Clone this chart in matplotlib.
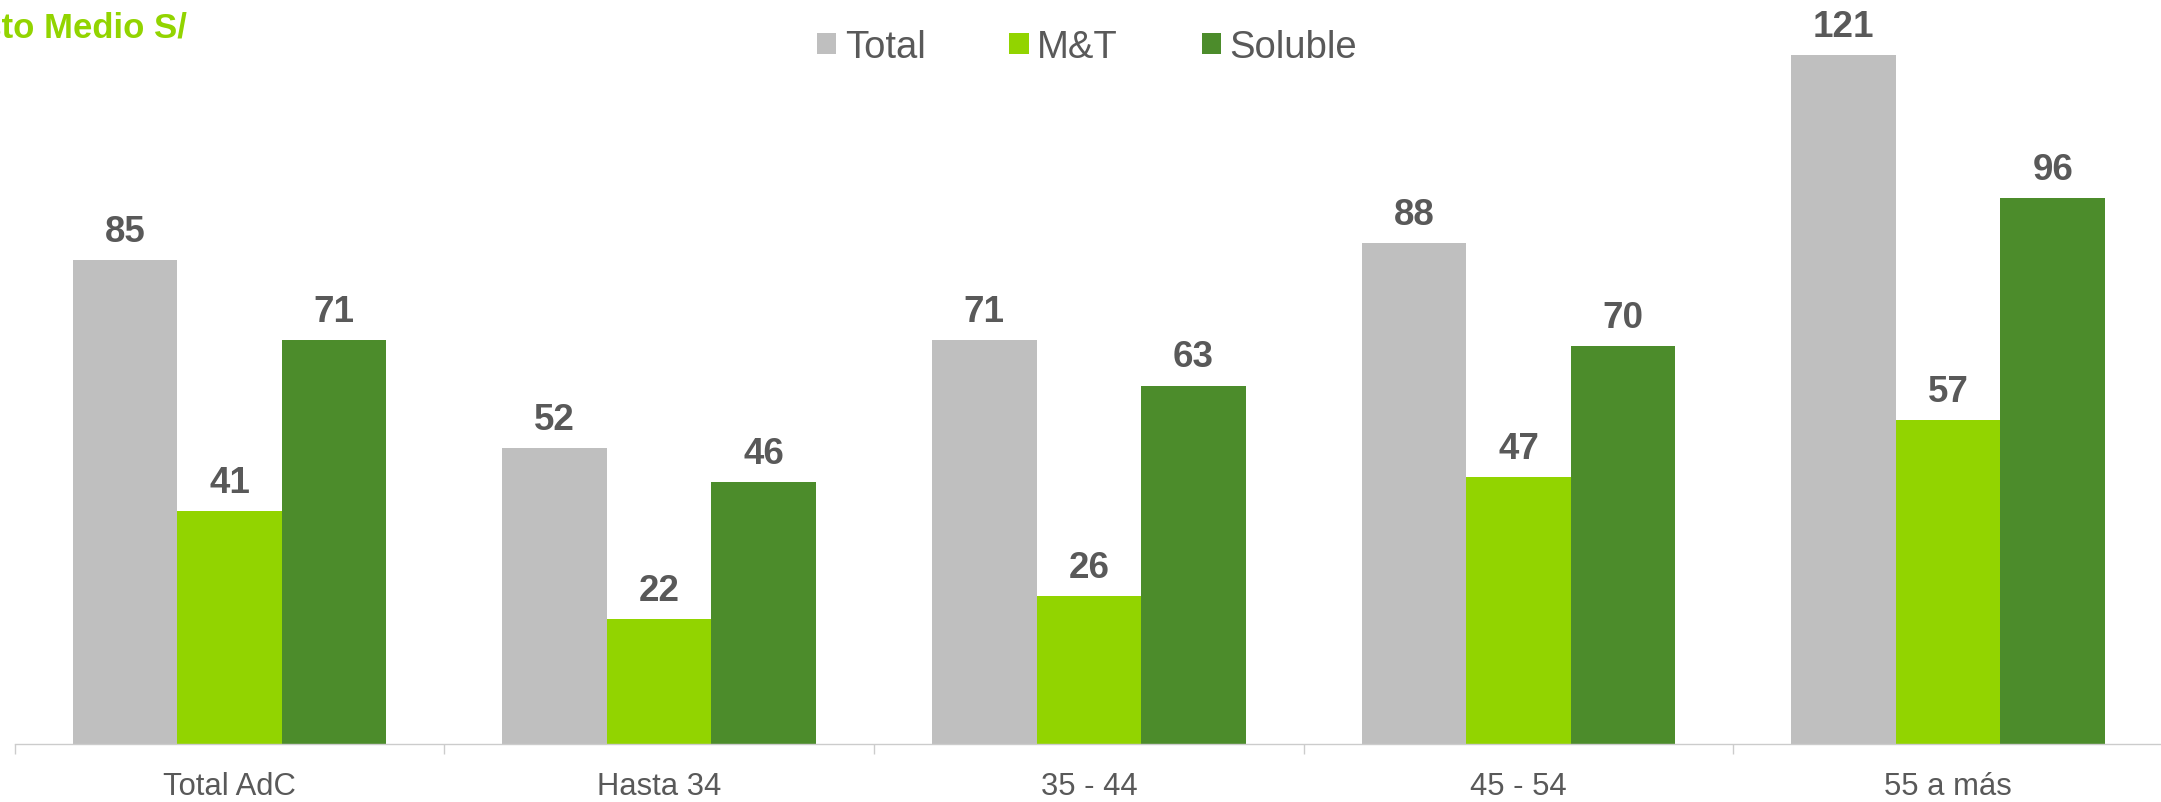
import matplotlib
matplotlib.use("Agg")
import matplotlib.pyplot as plt
from matplotlib.patches import Patch
import numpy as np

plt.rcParams['font.family'] = ['Liberation Sans', 'DejaVu Sans']

categories = ["Total AdC", "Hasta 34", "35 - 44", "45 - 54", "55 a más"]
series_names = ["Total", "M&T", "Soluble"]
total = [85, 52, 71, 88, 121]
myt = [41, 22, 26, 47, 57]
soluble = [71, 46, 63, 70, 96]
colors = ["#BFBFBF", "#92D400", "#4C8C2B"]
title = "Gasto Medio S/"

W, H = 2161, 803
fig = plt.figure(figsize=(W / 100, H / 100), dpi=100)
ax = fig.add_axes([14.7 / W, 57.7 / H, (2163 - 14.7) / W, 1 - 57.7 / H])

x = np.arange(len(categories))
bw = 0.2434
label_color = "#595959"
for k, (vals, col) in enumerate(zip([total, myt, soluble], colors)):
    pos = x + (k - 1) * bw
    ax.bar(pos, vals, width=bw, color=col, edgecolor="none", label=series_names[k])
    for xi, v in zip(pos, vals):
        ax.annotate(str(v), (xi, v), xytext=(0, 13.7), textcoords="offset points",
                    ha="center", va="baseline", fontsize=26.5, fontweight="bold",
                    color=label_color)

ax.set_xlim(-0.5, len(categories) - 0.5)
ax.set_ylim(0, 745.3 / 5.695)

for s in ["top", "right", "left"]:
    ax.spines[s].set_visible(False)
ax.spines["bottom"].set_color("#CCCCCC")
ax.spines["bottom"].set_linewidth(1.0)
ax.set_yticks([])

# group separators as major ticks, category names as minor tick labels
ax.set_xticks(np.arange(-0.5, len(categories) + 0.5, 1.0))
ax.set_xticklabels([])
ax.tick_params(axis="x", which="major", length=7.2, width=1.0, color="#CCCCCC", direction="out")
ax.set_xticks(x, minor=True)
ax.set_xticklabels(categories, minor=True)
ax.tick_params(axis="x", which="minor", length=0, pad=19, labelsize=22.3, labelcolor=label_color)

handles = [Patch(facecolor=c, edgecolor="none") for c in colors]
fig.legend(handles, series_names, loc="center", bbox_to_anchor=(1087 / W, 1 - 48 / H),
           ncol=3, frameon=False, fontsize=27.5, labelcolor=label_color,
           handlelength=0.5, handleheight=0.5, handletextpad=0.22,
           columnspacing=2.2, borderpad=0, borderaxespad=0)

fig.text(187 / W, 1 - 37 / H, title, ha="right", va="baseline", fontsize=25,
         fontweight="bold", color="#92D400")

fig.savefig("out.png", dpi=100)
